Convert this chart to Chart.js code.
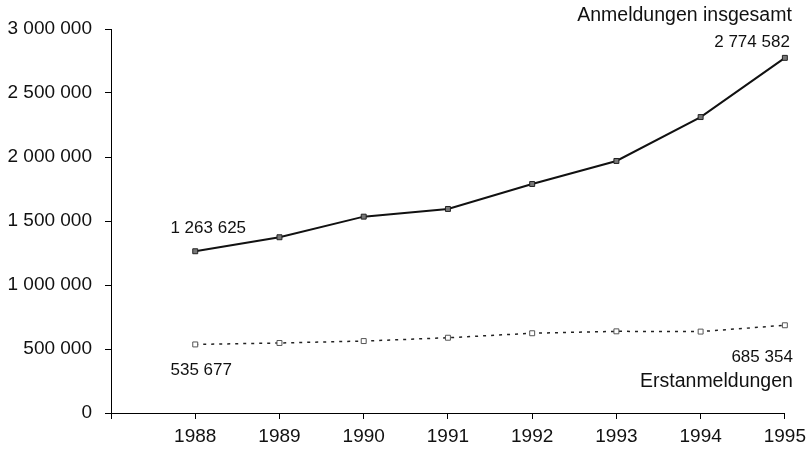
<!DOCTYPE html>
<html>
<head>
<meta charset="utf-8">
<script src="https://cdn.jsdelivr.net/npm/chart.js@4/dist/chart.umd.min.js"></script>
<style>
  html, body { margin: 0; padding: 0; background: #fff; }
  #wrap { width: 812px; height: 454px; }
</style>
</head>
<body>
<div id="wrap"><canvas id="chart" width="812" height="454"></canvas></div>
<script>
// Patent filings 1988-1995: total filings vs. first filings.

const years = [1988, 1989, 1990, 1991, 1992, 1993, 1994, 1995];
const totalFilings = [1263625, 1373000, 1534000, 1594000, 1789000, 1969000, 2312000, 2774582];
const firstFilings = [535677, 547000, 562000, 588000, 623000, 638000, 636000, 685354];
const yTicks = [0, 500000, 1000000, 1500000, 2000000, 2500000, 3000000];
const seriesNames = ["Anmeldungen insgesamt", "Erstanmeldungen"];

const FONT = "'Liberation Sans', Arial, sans-serif";

function fmt(v) {
  return String(v).replace(/\B(?=(\d{3})+(?!\d))/g, " ");
}

// value + series name labels, anchored to first / last points
const labelPlugin = {
  id: "labels",
  afterDatasetsDraw(chart) {
    const ctx = chart.ctx;
    const xs = chart.scales.x, ys = chart.scales.y;
    const last = years.length - 1;
    function put(text, year, val, dx, dy, align, size) {
      ctx.font = size + "px " + FONT;
      ctx.textAlign = align;
      ctx.textBaseline = "middle";
      ctx.fillStyle = "#111";
      ctx.fillText(text, xs.getPixelForValue(year) + dx, ys.getPixelForValue(val) + dy);
    }
    ctx.save();
    put(fmt(totalFilings[0]), years[0], totalFilings[0], 13, -23, "center", 17);
    put(fmt(firstFilings[0]), years[0], firstFilings[0], 6, 26, "center", 17);
    put(fmt(totalFilings[last]), years[last], totalFilings[last], 5, -16, "right", 17);
    put(seriesNames[0], years[last], totalFilings[last], 7, -42, "right", 19.5);
    put(fmt(firstFilings[last]), years[last], firstFilings[last], 8, 32, "right", 17);
    put(seriesNames[1], years[last], firstFilings[last], 8, 56, "right", 19.5);
    ctx.restore();
  }
};

new Chart(document.getElementById("chart"), {
  type: "line",
  data: {
    datasets: [
      {
        label: seriesNames[0],
        data: years.map(function (y, i) { return { x: y, y: totalFilings[i] }; }),
        borderColor: "#111",
        borderWidth: 2,
        pointStyle: "rect",
        pointRadius: 3.5,
        pointBackgroundColor: "#777",
        pointBorderColor: "#222",
        pointBorderWidth: 1,
        tension: 0,
        clip: false
      },
      {
        label: seriesNames[1],
        data: years.map(function (y, i) { return { x: y, y: firstFilings[i] }; }),
        borderColor: "#222",
        borderWidth: 1.5,
        borderDash: [3, 5],
        pointStyle: "rect",
        pointRadius: 3.5,
        pointBackgroundColor: "#fff",
        pointBorderColor: "#555",
        pointBorderWidth: 1,
        tension: 0,
        clip: false
      }
    ]
  },
  options: {
    responsive: false,
    animation: false,
    layout: { padding: { top: 29, right: 27, left: 0, bottom: 0 } },
    plugins: { legend: { display: false }, tooltip: { enabled: false } },
    scales: {
      x: {
        type: "linear",
        min: years[0] - 1,
        max: years[years.length - 1],
        afterBuildTicks: function (axis) {
          axis.ticks = [years[0] - 1].concat(years).map(function (v) { return { value: v }; });
        },
        afterFit: function (axis) { axis.height = 41; },
        grid: { display: true, drawOnChartArea: false, drawTicks: true, tickLength: 6, color: "#000" },
        border: { display: true, color: "#000", width: 1 },
        ticks: {
          color: "#111",
          font: { family: FONT, size: 19 },
          padding: 6,
          maxRotation: 0,
          callback: function (v) { return v < years[0] ? "" : String(v); }
        }
      },
      y: {
        min: yTicks[0],
        max: yTicks[yTicks.length - 1],
        afterBuildTicks: function (axis) {
          axis.ticks = yTicks.map(function (v) { return { value: v }; });
        },
        afterFit: function (axis) { axis.width = 111; },
        grid: { display: true, drawOnChartArea: false, drawTicks: true, tickLength: 6, color: "#000" },
        border: { display: true, color: "#000", width: 1 },
        ticks: {
          color: "#111",
          font: { family: FONT, size: 19 },
          padding: 13,
          callback: function (v) { return fmt(v); }
        }
      }
    }
  },
  plugins: [labelPlugin]
});
</script>
</body>
</html>
